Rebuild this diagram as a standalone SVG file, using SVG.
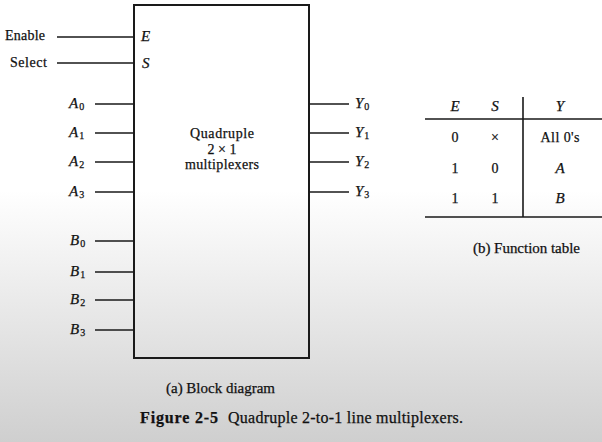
<svg xmlns="http://www.w3.org/2000/svg" width="602" height="442" viewBox="0 0 602 442">
<defs>
<linearGradient id="bg" x1="0" y1="0" x2="0" y2="442" gradientUnits="userSpaceOnUse">
<stop offset="0" stop-color="#ffffff"/>
<stop offset="0.43" stop-color="#ffffff"/>
<stop offset="1" stop-color="#cfcfcf"/>
</linearGradient>
</defs>
<style>
.t{font-family:"Liberation Serif","Times New Roman",serif;fill:#111;stroke:#111;stroke-width:0.25;}
.l{font-size:14px;}
.i{font-style:italic;font-size:15px;}
.s{font-size:10px;font-style:normal;}
.c{font-size:15px;}
.f{font-size:16px;}
.w{stroke:#1a1a1a;stroke-width:1.6;fill:none;}
</style>
<rect width="602" height="442" fill="url(#bg)"/>
<g id="block">
<rect x="134" y="5" width="175" height="353" fill="none" stroke="#1a1a1a" stroke-width="2"/>
<text class="t l" x="222" y="138" text-anchor="middle" textLength="64">Quadruple</text>
<text class="t l" x="222" y="154" text-anchor="middle">2 × 1</text>
<text class="t l" x="222" y="169" text-anchor="middle" textLength="74">multiplexers</text>
</g>
<g id="connectors">
<path class="w" d="M57 37H134M57 63H134M95 104H134M95 133H134M95 162H134M95 192H134M95 241H134M95 272H134M95 300H134M95 330H134M309 104H349M309 133H349M309 162H349M309 192H349"/>
</g>
<g id="labels">
<text class="t l" x="5" y="40" textLength="40">Enable</text>
<text class="t l" x="10" y="67" textLength="37">Select</text>
<text class="t i" x="141" y="41">E</text>
<text class="t i" x="142" y="68">S</text>
<text class="t i" x="69" y="108">A<tspan class="s" dx="1" dy="2">0</tspan></text>
<text class="t i" x="69" y="137">A<tspan class="s" dx="1" dy="2">1</tspan></text>
<text class="t i" x="69" y="166">A<tspan class="s" dx="1" dy="2">2</tspan></text>
<text class="t i" x="69" y="196">A<tspan class="s" dx="1" dy="2">3</tspan></text>
<text class="t i" x="70" y="245">B<tspan class="s" dx="1" dy="2">0</tspan></text>
<text class="t i" x="70" y="276">B<tspan class="s" dx="1" dy="2">1</tspan></text>
<text class="t i" x="70" y="304">B<tspan class="s" dx="1" dy="2">2</tspan></text>
<text class="t i" x="70" y="334">B<tspan class="s" dx="1" dy="2">3</tspan></text>
<text class="t i" x="355" y="108">Y<tspan class="s" dx="1" dy="2">0</tspan></text>
<text class="t i" x="355" y="137">Y<tspan class="s" dx="1" dy="2">1</tspan></text>
<text class="t i" x="355" y="166">Y<tspan class="s" dx="1" dy="2">2</tspan></text>
<text class="t i" x="355" y="196">Y<tspan class="s" dx="1" dy="2">3</tspan></text>
</g>
<g id="table">
<path class="w" d="M425 119H602M425 217H602M523 97V217"/>
<text class="t i" x="455" y="111" text-anchor="middle">E</text>
<text class="t i" x="495" y="111" text-anchor="middle">S</text>
<text class="t i" x="560" y="111" text-anchor="middle">Y</text>
<text class="t l" x="455" y="142" text-anchor="middle">0</text>
<text class="t l" x="495" y="142" text-anchor="middle">×</text>
<text class="t l" x="560" y="142" text-anchor="middle" textLength="39">All 0's</text>
<text class="t l" x="455" y="173" text-anchor="middle">1</text>
<text class="t l" x="495" y="173" text-anchor="middle">0</text>
<text class="t i" x="560" y="173" text-anchor="middle">A</text>
<text class="t l" x="455" y="203" text-anchor="middle">1</text>
<text class="t l" x="495" y="203" text-anchor="middle">1</text>
<text class="t i" x="560" y="203" text-anchor="middle">B</text>
<text class="t c" x="473" y="253" textLength="107">(b) Function table</text>
</g>
<g id="captions">
<text class="t c" x="166" y="393" textLength="109">(a) Block diagram</text>
<text class="t f" x="140" y="423" font-weight="bold" textLength="78">Figure 2-5</text>
<text class="t f" x="228" y="423" textLength="235">Quadruple 2-to-1 line multiplexers.</text>
</g>
</svg>
